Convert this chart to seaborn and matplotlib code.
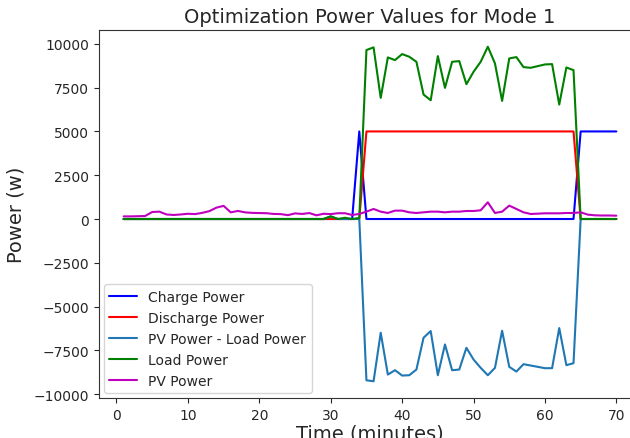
import numpy as np
import pandas as pd
import matplotlib
matplotlib.use("Agg")
import matplotlib.pyplot as plt
import seaborn as sns

# Time axis (minutes)
minutes = list(range(1, 71))

# Battery charge / discharge set-points (W)
charge_power = [0] * 33 + [5000] + [0] * 30 + [5000] * 6
discharge_power = [0] * 34 + [5000] * 30 + [0] * 6

# Load demand (W)
load_power = (
    [0] * 29
    + [150, 0, 70, 0, 60]
    + [9646, 9800, 6917, 9226, 9073, 9417, 9264, 8977, 7106, 6781,
       9303, 7487, 8977, 9016, 7698, 8405, 8977, 9837, 8883, 6743,
       9169, 9245, 8672, 8634, 8730, 8825, 8844, 6533, 8653, 8500]
    + [0] * 6
)

# Net PV minus load (W)
pv_minus_load = (
    [0] * 29
    + [150, 0, 0, 0, 0]
    + [-9208, -9265, -6494, -8882, -8633, -8939, -8920, -8595, -6780, -6398,
       -8920, -7163, -8633, -8595, -7354, -8022, -8499, -8920, -8499, -6379,
       -8442, -8710, -8289, -8366, -8442, -8518, -8518, -6226, -8346, -8232]
    + [0] * 6
)

# PV generation (W)
pv_power = [
    150, 150, 160, 170, 400, 420, 260, 230, 260, 300,
    280, 350, 450, 650, 750, 380, 460, 380, 350, 340,
    330, 290, 280, 220, 320, 290, 340, 210, 300, 280,
    330, 330, 230, 290, 420, 573, 420, 344, 478, 478,
    382, 344, 382, 420, 420, 382, 420, 420, 458, 458,
    497, 955, 344, 420, 764, 573, 382, 287, 306, 325,
    325, 325, 344, 344, 382, 250, 210, 200, 200, 190,
]

series = [
    ("Charge Power", charge_power, "b"),
    ("Discharge Power", discharge_power, "r"),
    ("PV Power - Load Power", pv_minus_load, "#1f77b4"),
    ("Load Power", load_power, "g"),
    ("PV Power", pv_power, "m"),
]

sns.set_style("ticks")
plt.rcParams["font.family"] = ["DejaVu Sans"]

fig = plt.figure(figsize=(6.3, 4.39), dpi=100)
ax = fig.add_axes([99 / 630, 40 / 439, 542 / 630, 368 / 439])

for label, values, color in series:
    df = pd.DataFrame({"Time": minutes, "Power": values})
    sns.lineplot(data=df, x="Time", y="Power", ax=ax, color=color,
                 label=label, linewidth=1.5)

for side in ("left", "bottom", "top", "right"):
    ax.spines[side].set_color("0.2")

ax.set_xticks([0, 10, 20, 30, 40, 50, 60, 70])
ax.set_yticks([-10000, -7500, -5000, -2500, 0, 2500, 5000, 7500, 10000])
ax.tick_params(labelsize=10, length=3.5, width=0.8, colors="0.15")
ax.set_title("Optimization Power Values for Mode 1", fontsize=14, pad=6)
ax.set_xlabel("Time (minutes)", fontsize=14, labelpad=1)
ax.set_ylabel("Power (w)", fontsize=14, labelpad=6)
ax.legend(loc="lower left", fontsize=10, frameon=True,
          borderaxespad=0.35, handlelength=2.0)

fig.savefig("out.png", dpi=100)
